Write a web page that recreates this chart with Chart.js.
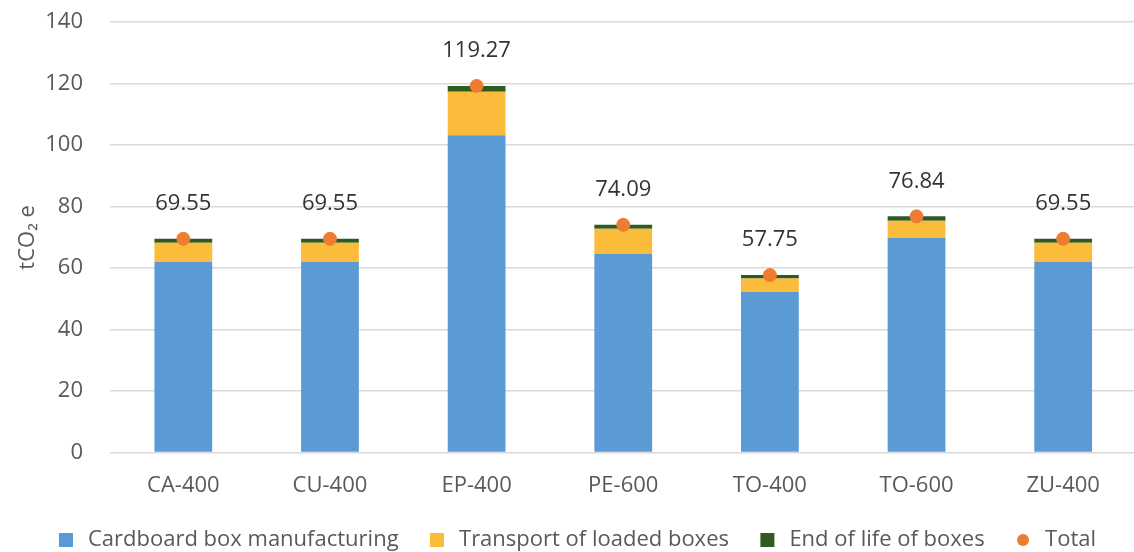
<!DOCTYPE html>
<html>
<head>
<meta charset="utf-8">
<script src="https://cdn.jsdelivr.net/npm/chart.js@4/dist/chart.umd.min.js"></script>
<style>
  html, body { margin: 0; padding: 0; background: #ffffff; overflow: hidden; }
  #wrap { position: absolute; left: 0; top: -18px; width: 1144px; height: 579px; }
</style>
</head>
<body>
<div id="wrap"><canvas id="chart"></canvas></div>
<script>
// Emissions per site, tCO2e, split by life-cycle stage
const categories = ['CA-400', 'CU-400', 'EP-400', 'PE-600', 'TO-400', 'TO-600', 'ZU-400'];
const cardboard  = [62.05, 62.05, 103.2, 64.7, 52.2, 69.9, 62.05];
const transport  = [6.25, 6.25, 14.2, 8.1, 4.4, 5.5, 6.25];
const endOfLife  = [1.25, 1.25, 1.87, 1.29, 1.15, 1.44, 1.25];
const totals     = [69.55, 69.55, 119.27, 74.09, 57.75, 76.84, 69.55];
const yTicks     = [0, 20, 40, 60, 80, 100, 120, 140];

const FONT = '"Open Sans", "Noto Sans", sans-serif';
const GREY = '#595959';
const ORANGE = '#ED7D31';

// Small round swatch for the "Total" legend entry
function dotSwatch(color, d) {
  const c = document.createElement('canvas');
  c.width = d; c.height = d;
  const g = c.getContext('2d');
  g.fillStyle = color;
  g.beginPath();
  g.arc(d / 2, d / 2, d / 2, 0, Math.PI * 2);
  g.fill();
  return c;
}
const totalSwatch = dotSwatch(ORANGE, 12);

// Writes each total above its marker
const totalLabels = {
  id: 'totalLabels',
  afterDatasetsDraw(chart) {
    const meta = chart.getDatasetMeta(3);
    const ctx = chart.ctx;
    ctx.save();
    ctx.font = '22px ' + FONT;
    ctx.fillStyle = '#333333';
    ctx.textAlign = 'center';
    ctx.textBaseline = 'middle';
    meta.data.forEach((pt, i) => {
      ctx.fillText(totals[i].toFixed(2), pt.x, pt.y - 35);
    });
    ctx.restore();
  }
};

new Chart(document.getElementById('chart'), {
  data: {
    labels: categories,
    datasets: [
      { type: 'bar', label: 'Cardboard box manufacturing', data: cardboard,
        backgroundColor: '#5B9BD5', pointStyle: 'rect', order: 1 },
      { type: 'bar', label: 'Transport of loaded boxes', data: transport,
        backgroundColor: '#FBBB3B', pointStyle: 'rect', order: 1 },
      { type: 'bar', label: 'End of life of boxes', data: endOfLife,
        backgroundColor: '#2E5B22', pointStyle: 'rect', order: 1 },
      { type: 'line', label: 'Total', data: totals, stack: 'total',
        showLine: false, pointStyle: 'circle', pointRadius: 6.5,
        pointBackgroundColor: ORANGE, pointBorderColor: ORANGE,
        backgroundColor: ORANGE, borderColor: ORANGE, order: 0 }
    ]
  },
  options: {
    responsive: true,
    maintainAspectRatio: false,
    animation: false,
    layout: { padding: { top: 0, left: 11, right: 4, bottom: 0 } },
    datasets: {
      bar: { categoryPercentage: 1, barPercentage: 0.394 }
    },
    scales: {
      x: {
        stacked: true,
        grid: { display: false, drawTicks: false },
        border: { display: false },
        ticks: { color: GREY, font: { family: FONT, size: 22 }, padding: 20 },
        afterFit(axis) { axis.height -= 6; }
      },
      y: {
        stacked: true,
        min: 0, max: 140,
        afterBuildTicks(axis) { axis.ticks = yTicks.map(v => ({ value: v })); },
        afterFit(axis) { axis.width = 99; },
        grid: { color: '#D9D9D9', lineWidth: 1.5, drawTicks: false },
        border: { display: false },
        ticks: { color: GREY, font: { family: FONT, size: 22 }, padding: 27 },
        title: { display: true, text: 'tCO₂ e', color: GREY,
                 font: { family: FONT, size: 22 }, padding: 4 }
      }
    },
    plugins: {
      legend: {
        position: 'bottom',
        labels: {
          usePointStyle: true,
          boxHeight: 14,
          padding: 16,
          color: GREY,
          font: { family: FONT, size: 22 },
          sort: (a, b) => a.datasetIndex - b.datasetIndex,
          generateLabels(chart) {
            const items = Chart.defaults.plugins.legend.labels.generateLabels(chart);
            items.forEach(it => {
              if (it.datasetIndex === 3) {
                it.pointStyle = totalSwatch;
              } else {
                it.text = it.text + '  ';
              }
            });
            return items;
          }
        }
      },
      tooltip: { enabled: false }
    }
  },
  plugins: [totalLabels]
});
</script>
</body>
</html>
